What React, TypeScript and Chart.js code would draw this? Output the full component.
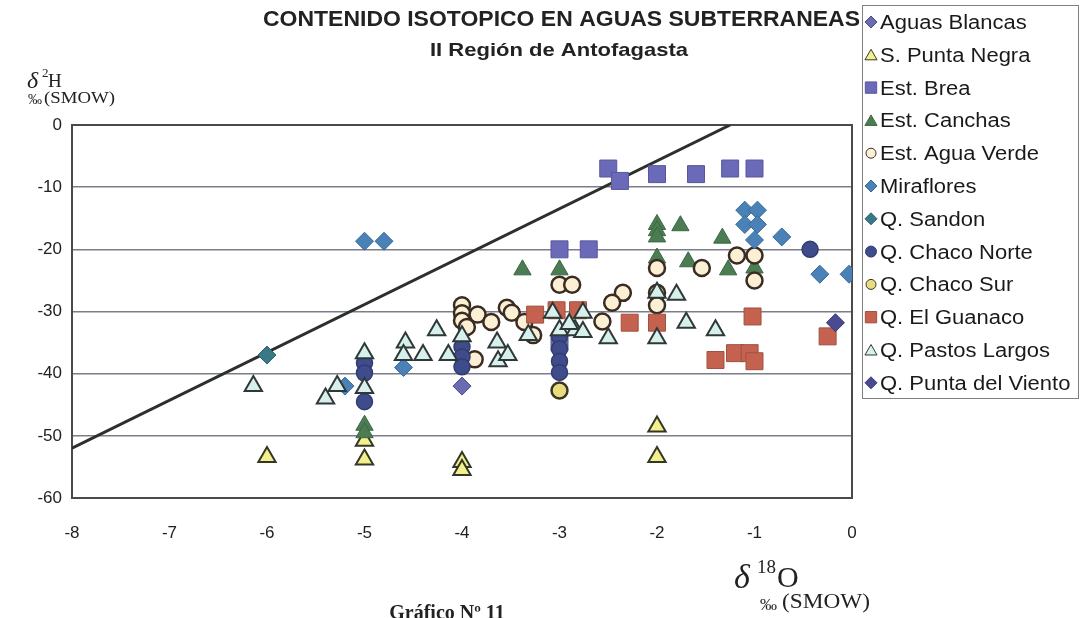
import React, { useEffect, useRef } from "react";
import { Chart, registerables } from "chart.js";
import { drawPoint } from "chart.js/helpers";

Chart.register(...registerables);

// ---- Data ----
const xTickStep = 1;
const yTickStep = 10;
const xMin = -8, xMax = 0, yMin = -60, yMax = 0;

const seriesNames = [
  "Aguas Blancas",
  "S. Punta Negra",
  "Est. Brea",
  "Est. Canchas",
  "Est. Agua Verde",
  "Miraflores",
  "Q. Sandon",
  "Q. Chaco Norte",
  "Q. Chaco Sur",
  "Q. El Guanaco",
  "Q. Pastos Largos",
  "Q. Punta del Viento",
];

const aguasBlancasX = [-4];
const aguasBlancasY = [-42];

const puntaNegraX = [-6, -5, -5, -4, -4, -2, -2];
const puntaNegraY = [-53.4, -50.8, -53.8, -54.2, -55.5, -48.5, -53.4];

const breaX = [-2.5, -2.38, -2, -1.6, -1.25, -1, -3, -2.7, -3];
const breaY = [-7, -9, -7.9, -7.9, -7, -7, -20, -20, -35];

const canchasX = [-3.38, -3, -2, -2, -2, -1.76, -1.33, -2, -1.68, -1.27, -1, -5, -5];
const canchasY = [-23.3, -23.3, -16, -17, -18, -16.2, -18.2, -21.4, -22, -23.3, -23, -48.3, -49.5];

const aguaVerdeX = [-3, -2.87, -4, -4, -3.84, -3.7, -3.54, -3.49, -3.36, -3.27, -3.87, -2.35, -2.46, -2.56, -2, -2, -2, -1.54, -1.18, -1, -1, -4, -3.95];
const aguaVerdeY = [-25.7, -25.7, -29, -30.3, -30.5, -31.7, -29.4, -30.2, -31.7, -33.8, -37.7, -27, -28.6, -31.6, -23, -27, -29, -23, -21, -21, -25, -31.5, -32.5];

const mirafloresX = [-5, -4.8, -5.2, -4.6, -1.1, -0.97, -1.1, -0.97, -1, -0.72, -0.33, -0.03];
const mirafloresY = [-18.7, -18.7, -42, -39, -13.7, -13.7, -16, -16, -18.5, -18, -24, -24];

const sandonX = [-6];
const sandonY = [-37];

const chacoNorteX = [-5, -5, -5, -4, -4, -4, -3, -3, -3, -3, -0.43];
const chacoNorteY = [-38.3, -39.9, -44.5, -35.7, -37.3, -38.9, -34, -36, -38, -39.8, -20];

const chacoSurX = [-3];
const chacoSurY = [-42.7];

const guanacoX = [-3.25, -3.03, -2.81, -2.28, -2, -1.02, -1.4, -1.2, -1.05, -1, -0.25];
const guanacoY = [-30.5, -29.8, -29.8, -31.8, -31.8, -30.8, -37.8, -36.7, -36.7, -38, -34];

const pastosLargosX = [-6.14, -5.4, -5.28, -5, -5, -4.58, -4.6, -4.4, -4.26, -4.14, -4, -3.64, -3.63, -3.53, -3.32, -3.07, -3, -2.84, -2.76, -2.76, -2.5, -2, -2, -1.8, -1.7, -1.4, -2.9];
const pastosLargosY = [-42, -44, -42, -36.7, -42.3, -35, -37, -37, -33, -37, -34, -35, -38, -37, -33.8, -30.2, -33, -33, -33.3, -30.2, -34.3, -27, -34.3, -27.3, -31.8, -33, -32];

const puntaVientoX = [-0.17];
const puntaVientoY = [-31.8];

const seriesX = [aguasBlancasX, puntaNegraX, breaX, canchasX, aguaVerdeX, mirafloresX, sandonX, chacoNorteX, chacoSurX, guanacoX, pastosLargosX, puntaVientoX];
const seriesY = [aguasBlancasY, puntaNegraY, breaY, canchasY, aguaVerdeY, mirafloresY, sandonY, chacoNorteY, chacoSurY, guanacoY, pastosLargosY, puntaVientoY];

// meteoric water line end points
const lineX = [-8, -1.25];
const lineY = [-52, 0];

// ---- Styles ----
const styles = [
  { ps: "rectRot", r: 9, bg: "#6b6bb2", bd: "#4a4a86", bw: 1, lr: 6 },
  { ps: "triangle", r: 10, bg: "#f2f08c", bd: "#343628", bw: 2, lr: 7 },
  { ps: "rect", r: 12, bg: "#6a6ab8", bd: "#57579c", bw: 1, lr: 8 },
  { ps: "triangle", r: 10, bg: "#4c7c52", bd: "#3c6644", bw: 1, lr: 7 },
  { ps: "circle", r: 8, bg: "#fcf0d4", bd: "#3a2c22", bw: 2.5, lr: 5 },
  { ps: "rectRot", r: 9, bg: "#4a82b8", bd: "#3a6a98", bw: 1, lr: 6 },
  { ps: "rectRot", r: 9, bg: "#3a7888", bd: "#2e6070", bw: 1, lr: 6 },
  { ps: "circle", r: 8, bg: "#3e4c8c", bd: "#333c70", bw: 1.5, lr: 5.5 },
  { ps: "circle", r: 8, bg: "#e8dc80", bd: "#3a3520", bw: 2.5, lr: 5 },
  { ps: "rect", r: 12, bg: "#c4624f", bd: "#a05040", bw: 1, lr: 8 },
  { ps: "triangle", r: 10, bg: "#d8f0ec", bd: "#2e3838", bw: 2, lr: 7 },
  { ps: "rectRot", r: 9, bg: "#4a4a92", bd: "#3a3a70", bw: 1, lr: 6 },
];

function fitText(ctx: CanvasRenderingContext2D, text: string, x: number, y: number, width: number | null, font: string, color: string, sx = 1) {
  ctx.save();
  ctx.font = font;
  ctx.fillStyle = color;
  ctx.textAlign = "left";
  ctx.textBaseline = "alphabetic";
  const w = ctx.measureText(text).width;
  const s = width ? width / w : sx;
  ctx.translate(x, y);
  ctx.scale(s, 1);
  ctx.fillText(text, 0, 0);
  ctx.restore();
}

const decorPlugin = {
  id: "decor",
  beforeDatasetsDraw(chart: any) {
    const ctx = chart.ctx as CanvasRenderingContext2D;
    const { left, top, right, bottom } = chart.chartArea;
    ctx.save();
    ctx.strokeStyle = "#4a4a4a";
    ctx.lineWidth = 2;
    ctx.strokeRect(left, top, right - left, bottom - top);
    ctx.restore();
  },
  afterDraw(chart: any) {
    const ctx = chart.ctx as CanvasRenderingContext2D;
    const sans = '"Liberation Sans", Arial, sans-serif';
    const serif = '"Liberation Serif", "Times New Roman", serif';
    // Titles
    fitText(ctx, "CONTENIDO ISOTOPICO EN AGUAS SUBTERRANEAS", 263, 26, 597, `bold 22px ${sans}`, "#222");
    fitText(ctx, "II Región de Antofagasta", 430, 56, 258, `bold 19px ${sans}`, "#222");

    // Y axis title
    fitText(ctx, "δ", 27, 88, null, `italic 24px ${serif}`, "#222");
    fitText(ctx, "2", 42, 77, null, `13px ${serif}`, "#222");
    fitText(ctx, "H", 48, 87, null, `19px ${serif}`, "#222");
    fitText(ctx, "‰", 28, 104, null, `14px ${serif}`, "#222");
    fitText(ctx, "(SMOW)", 44, 103, 71, `17px ${serif}`, "#222");

    // X axis title
    fitText(ctx, "δ", 734, 588, null, `italic 34px ${serif}`, "#222");
    fitText(ctx, "18", 757, 573, null, `19px ${serif}`, "#222");
    fitText(ctx, "O", 777, 587, null, `30px ${serif}`, "#222");
    fitText(ctx, "‰", 760, 610, null, `17px ${serif}`, "#222");
    fitText(ctx, "(SMOW)", 782, 608, 88, `21px ${serif}`, "#222");

    // Caption
    ctx.save();
    ctx.font = `bold 20px ${serif}`;
    ctx.fillStyle = "#222";
    ctx.textAlign = "center";
    ctx.fillText("Gráfico Nº 11", 447, 619);
    ctx.restore();

    // Legend
    ctx.save();
    ctx.strokeStyle = "#808080";
    ctx.lineWidth = 1;
    ctx.strokeRect(862.5, 5.5, 216, 393);
    ctx.restore();
    seriesNames.forEach((name, i) => {
      const cy = 22 + i * 32.8;
      const st = styles[i];
      ctx.save();
      ctx.fillStyle = st.bg;
      ctx.strokeStyle = st.bd;
      drawPoint(ctx, { pointStyle: st.ps as any, radius: st.lr, rotation: 0, borderWidth: Math.min(st.bw, 2) } as any, 871, cy + (st.ps === "triangle" ? 1.5 : 0));
      ctx.restore();
      fitText(ctx, name, 880, cy + 7, null, `20px ${sans}`, "#1a1a1a", 1.1);
    });
  },
};

export default function App() {
  const ref = useRef<HTMLCanvasElement | null>(null);

  useEffect(() => {
    if (!ref.current) return;
    const n = seriesNames.length;
    const datasets: any[] = seriesNames.map((name, i) => ({
      label: name,
      data: seriesX[i].map((x, j) => ({ x, y: seriesY[i][j] })),
      pointStyle: styles[i].ps,
      pointRadius: styles[i].r,
      pointHoverRadius: styles[i].r,
      backgroundColor: styles[i].bg,
      borderColor: styles[i].bd,
      borderWidth: styles[i].bw,
      showLine: false,
      order: n - i,
    }));
    datasets.push({
      label: "LMM",
      data: lineX.map((x, j) => ({ x, y: lineY[j] })),
      showLine: true,
      pointRadius: 0,
      borderColor: "#2b302b",
      borderWidth: 3,
      order: n + 5,
    });

    const chart = new Chart(ref.current, {
      type: "scatter",
      data: { datasets },
      options: {
        responsive: false,
        animation: false,
        events: [],
        layout: { padding: { left: 0, top: 125, right: 237, bottom: 0 } },
        plugins: {
          legend: { display: false },
          tooltip: { enabled: false },
          title: { display: false },
        },
        scales: {
          x: {
            type: "linear",
            min: xMin,
            max: xMax,
            afterFit: (s: any) => { s.height = 120; },
            ticks: {
              stepSize: xTickStep,
              padding: 25,
              color: "#222",
              font: { family: '"Liberation Sans", Arial, sans-serif', size: 17 },
            },
            grid: { display: false, drawTicks: false },
            border: { display: true, color: "#4a4a4a", width: 2 },
          },
          y: {
            type: "linear",
            min: yMin,
            max: yMax,
            afterFit: (s: any) => { s.width = 72; },
            ticks: {
              stepSize: yTickStep,
              padding: 10,
              color: "#222",
              font: { family: '"Liberation Sans", Arial, sans-serif', size: 17 },
            },
            grid: { display: true, drawTicks: false, color: "#7d7d88", lineWidth: 1.5 },
            border: { display: true, color: "#4a4a4a", width: 2 },
          },
        },
      },
      plugins: [decorPlugin],
    });
    return () => chart.destroy();
  }, []);

  return (
    <div style={{ position: "fixed", left: 0, top: 0, width: 1089, height: 618, background: "#fff" }}>
      <canvas ref={ref} width={1089} height={618} style={{ display: "block" }} />
    </div>
  );
}
